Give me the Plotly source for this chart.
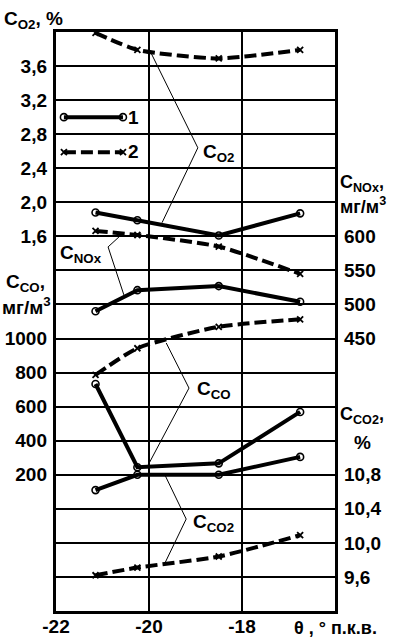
import plotly.graph_objects as go

# ---------------- data ----------------
theta = [-21.15, -20.25, -18.5, -16.75]

o2_1 = [1.88, 1.79, 1.61, 1.87]
o2_2 = [3.99, 3.79, 3.69, 3.79]
nox_1 = [490, 521, 527, 504]
nox_2 = [608, 602, 585, 545]
co_1 = [733, 244, 267, 569]
co_2 = [786, 943, 1069, 1113]
co2_1 = [10.62, 10.80, 10.80, 11.01]
co2_2 = [9.62, 9.71, 9.84, 10.09]

x_ticks = [-22, -20, -18]
o2_ticks = [1.6, 2.0, 2.4, 2.8, 3.2, 3.6]
co_ticks = [200, 400, 600, 800, 1000]
nox_ticks = [450, 500, 550, 600]
co2_ticks = [9.6, 10.0, 10.4, 10.8]

legend_labels = ["1", "2"]

# ---------------- styling ----------------
FONT = "Liberation Sans"
BLACK = "black"
W, H = 393, 639
ML, MR, MT, MB = 56, 58, 32, 28
PW, PH = W - ML - MR, H - MT - MB


def comma(v, nd=1):
    return f"{v:.{nd}f}".replace(".", ",")


def px(xp, yp):
    """pixel -> paper coords (for text placement only)"""
    return (xp - ML) / PW, (H - MB - yp) / PH


tickfont = dict(family=FONT, size=19, color=BLACK, weight="bold")
solid = dict(color=BLACK, width=4)
dashed = dict(color=BLACK, width=4, dash="12px,5px", shape="spline", smoothing=0.6)
m_circle = dict(symbol="circle-open", size=7, color=BLACK, line=dict(width=1.6, color=BLACK))
m_x = dict(symbol="x-thin", size=6, color=BLACK, line=dict(width=1.8, color=BLACK))

fig = go.Figure()

series = [
    (o2_1, "y2", solid, m_circle),
    (o2_2, "y2", dashed, m_x),
    (nox_1, "y4", solid, m_circle),
    (nox_2, "y4", dashed, m_x),
    (co_1, "y3", solid, m_circle),
    (co_2, "y3", dashed, m_x),
    (co2_1, "y5", solid, m_circle),
    (co2_2, "y5", dashed, m_x),
]
for vals, ya, ln, mk in series:
    fig.add_trace(go.Scatter(x=theta, y=vals, yaxis=ya, mode="lines+markers",
                             line=ln, marker=mk, cliponaxis=False, showlegend=False,
                             hoverinfo="skip"))

# legend samples (on theta axis / grid-row axis)
leg_x = [-21.83, -20.56]
leg_y = [14.5, 13.47]
fig.add_trace(go.Scatter(x=leg_x, y=[leg_y[0]] * 2, yaxis="y", mode="lines+markers",
                         line=dict(color=BLACK, width=4), marker=m_circle, showlegend=False,
                         cliponaxis=False, hoverinfo="skip"))
fig.add_trace(go.Scatter(x=leg_x, y=[leg_y[1]] * 2, yaxis="y", mode="lines+markers",
                         line=dict(color=BLACK, width=4, dash="12px,5px"), marker=m_x,
                         showlegend=False, cliponaxis=False, hoverinfo="skip"))

common_y = dict(showgrid=False, zeroline=False, showline=False, ticks="", automargin=False,
                tickfont=tickfont, overlaying="y", anchor="x", ticklabelstandoff=8)

fig.update_layout(
    width=W, height=H,
    margin=dict(l=ML, r=MR, t=MT, b=MB, autoexpand=False),
    plot_bgcolor="white", paper_bgcolor="white",
    showlegend=False,
    xaxis=dict(range=[-22, -16], tickvals=x_ticks, ticktext=[str(v) for v in x_ticks],
               showgrid=True, gridcolor=BLACK, gridwidth=2, zeroline=False, automargin=False,
               showline=True, linecolor=BLACK, linewidth=3, mirror=True, ticks="",
               tickfont=tickfont, ticklabelstandoff=-4),
    yaxis=dict(range=[0, 17], dtick=1, tick0=0, showgrid=True, gridcolor=BLACK, gridwidth=2,
               zeroline=False, showticklabels=False, showline=True, linecolor=BLACK,
               linewidth=3, mirror=True, ticks="", automargin=False),
    yaxis2=dict(range=[-2.8, 4.0], tickvals=o2_ticks, ticktext=[comma(v) for v in o2_ticks],
                side="left", **common_y),
    yaxis3=dict(range=[-600, 2800], tickvals=co_ticks, ticktext=[str(v) for v in co_ticks],
                side="left", **common_y),
    yaxis4=dict(range=[50, 900], tickvals=nox_ticks, ticktext=[str(v) for v in nox_ticks],
                side="right", **common_y),
    yaxis5=dict(range=[9.2, 16.0], tickvals=co2_ticks, ticktext=[comma(v) for v in co2_ticks],
                side="right", **common_y),
)

# leader lines (bracket callouts), in data units of each axis
leaders = [
    ("y2", [(-19.98, 3.78), (-18.95, 2.64), (-19.72, 1.76)]),
    ("y4", [(-20.60, 602), (-20.88, 584.5), (-20.54, 514)]),
    ("y3", [(-19.63, 974), (-19.14, 709), (-20.04, 246)]),
    ("y5", [(-19.66, 10.80), (-19.20, 10.28), (-19.66, 9.76)]),
]
for ya, pts in leaders:
    path = "M " + " L ".join(f"{x},{y}" for x, y in pts)
    fig.add_shape(type="path", path=path, xref="x", yref=ya,
                  line=dict(color=BLACK, width=1))


def text(xp, yp, s, anchor="left", size=19):
    x, y = px(xp, yp)
    fig.add_annotation(x=x, y=y, xref="paper", yref="paper", text=s, showarrow=False,
                       xanchor=anchor, yanchor="middle",
                       font=dict(family=FONT, size=size, color=BLACK, weight="bold"))


# series labels
text(201, 153, "C<sub>O2</sub>")
text(58, 254, "C<sub>NOx</sub>")
text(195, 390, "C<sub>CO</sub>")
text(191, 523, "C<sub>CO2</sub>")

# legend texts
text(133, 117, legend_labels[0], anchor="center")
text(133, 152, legend_labels[1], anchor="center")

# axis titles
text(2, 20, "C<sub>O2</sub>, %")
text(4, 283, "C<sub>CO</sub>,")
text(0, 306, "мг/м<sup>3</sup>")
text(338, 183, "C<sub>NOx</sub>,", size=18)
text(338, 205, "мг/м<sup>3</sup>", size=18)
text(338, 415, "C<sub>CO2</sub>,", size=18)
text(352, 442, "%")
text(292, 628, "θ , ° п.к.в.", size=18)

fig.write_html("out.html", config={"displayModeBar": False},
               post_script="document.body.style.margin='0';document.body.style.overflow='hidden';")
